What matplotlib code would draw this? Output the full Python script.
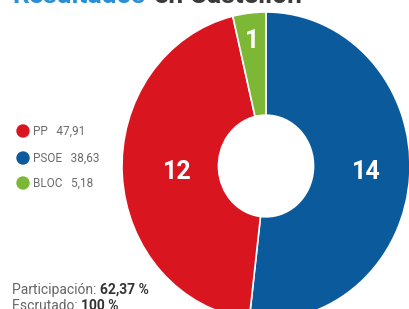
import matplotlib
matplotlib.use("Agg")
import matplotlib.pyplot as plt
from matplotlib.patches import Ellipse
import numpy as np

# seats, ordered clockwise from the top
parties = ["PSOE", "PP", "BLOC"]
seats = [14, 12, 1]
colors = ["#0b5a9c", "#d9161f", "#7cb735"]
label_r = [0.70, 0.62, 0.82]

# legend (vote %)
legend_parties = ["PP", "PSOE", "BLOC"]
legend_votes = ["47,91", "38,63", "5,18"]
legend_colors = ["#d9161f", "#0b5a9c", "#7cb735"]

participacion = "62,37 %"
escrutado = "100 %"

W, H = 410, 309
fig = plt.figure(figsize=(W / 100, H / 100), dpi=100)
fig.patch.set_facecolor("white")
font = ["Roboto", "DejaVu Sans"]

cx, cy = 266, H - 166
rx, ry = 144, 154
ax = fig.add_axes([(cx - rx) / W, (cy - ry) / H, 2 * rx / W, 2 * ry / H])
wedges, _ = ax.pie(seats, colors=colors, startangle=90, counterclock=False,
                   wedgeprops=dict(width=0.67, edgecolor="white", linewidth=1.2))
ax.set_aspect("auto")
ax.set_xlim(-1, 1)
ax.set_ylim(-1, 1)
ax.axis("off")

cum = np.cumsum([0] + seats)
tot = float(sum(seats))
for i, s in enumerate(seats):
    mid = 90 - 360 * (cum[i] + cum[i + 1]) / 2 / tot
    a = np.deg2rad(mid)
    ax.text(label_r[i] * np.cos(a), label_r[i] * np.sin(a), str(s),
            ha="center", va="center", color="white", fontsize=18,
            fontweight="bold", family=font)

# title (cut off at the top)
t1 = fig.text(12 / W, 1 - 3 / H, "Resultados", color="#2a8fd6", fontsize=19,
              fontweight="bold", va="baseline", family=font)
fig.canvas.draw()
bb = t1.get_window_extent(fig.canvas.get_renderer())
fig.text((bb.x1 + 9) / W, 1 - 3 / H, "en Castellón", color="#3a3a3a",
         fontsize=19, fontweight="bold", va="baseline", family=font)

# legend
ys = [131, 158, 183]
for p, v, c, y in zip(legend_parties, legend_votes, legend_colors, ys):
    fig.add_artist(Ellipse((23 / W, 1 - y / H), 12 / W, 12 / H,
                           transform=fig.transFigure, color=c))
    fig.text(33 / W, 1 - (y + 4) / H, p + "   " + v, color="#6a6a6a",
             fontsize=8.5, va="baseline", ha="left", family=font)

# footer
for label, val, y in [("Participación: ", participacion, 294),
                      ("Escrutado: ", escrutado, 310)]:
    t = fig.text(12 / W, 1 - y / H, label, color="#666666", fontsize=10,
                 va="baseline", ha="left", family=font)
    fig.canvas.draw()
    bb = t.get_window_extent(fig.canvas.get_renderer())
    fig.text(bb.x1 / W, 1 - y / H, val, color="#333333", fontsize=10,
             fontweight="bold", va="baseline", ha="left", family=font)

fig.savefig("out.png", dpi=100, facecolor="white")
